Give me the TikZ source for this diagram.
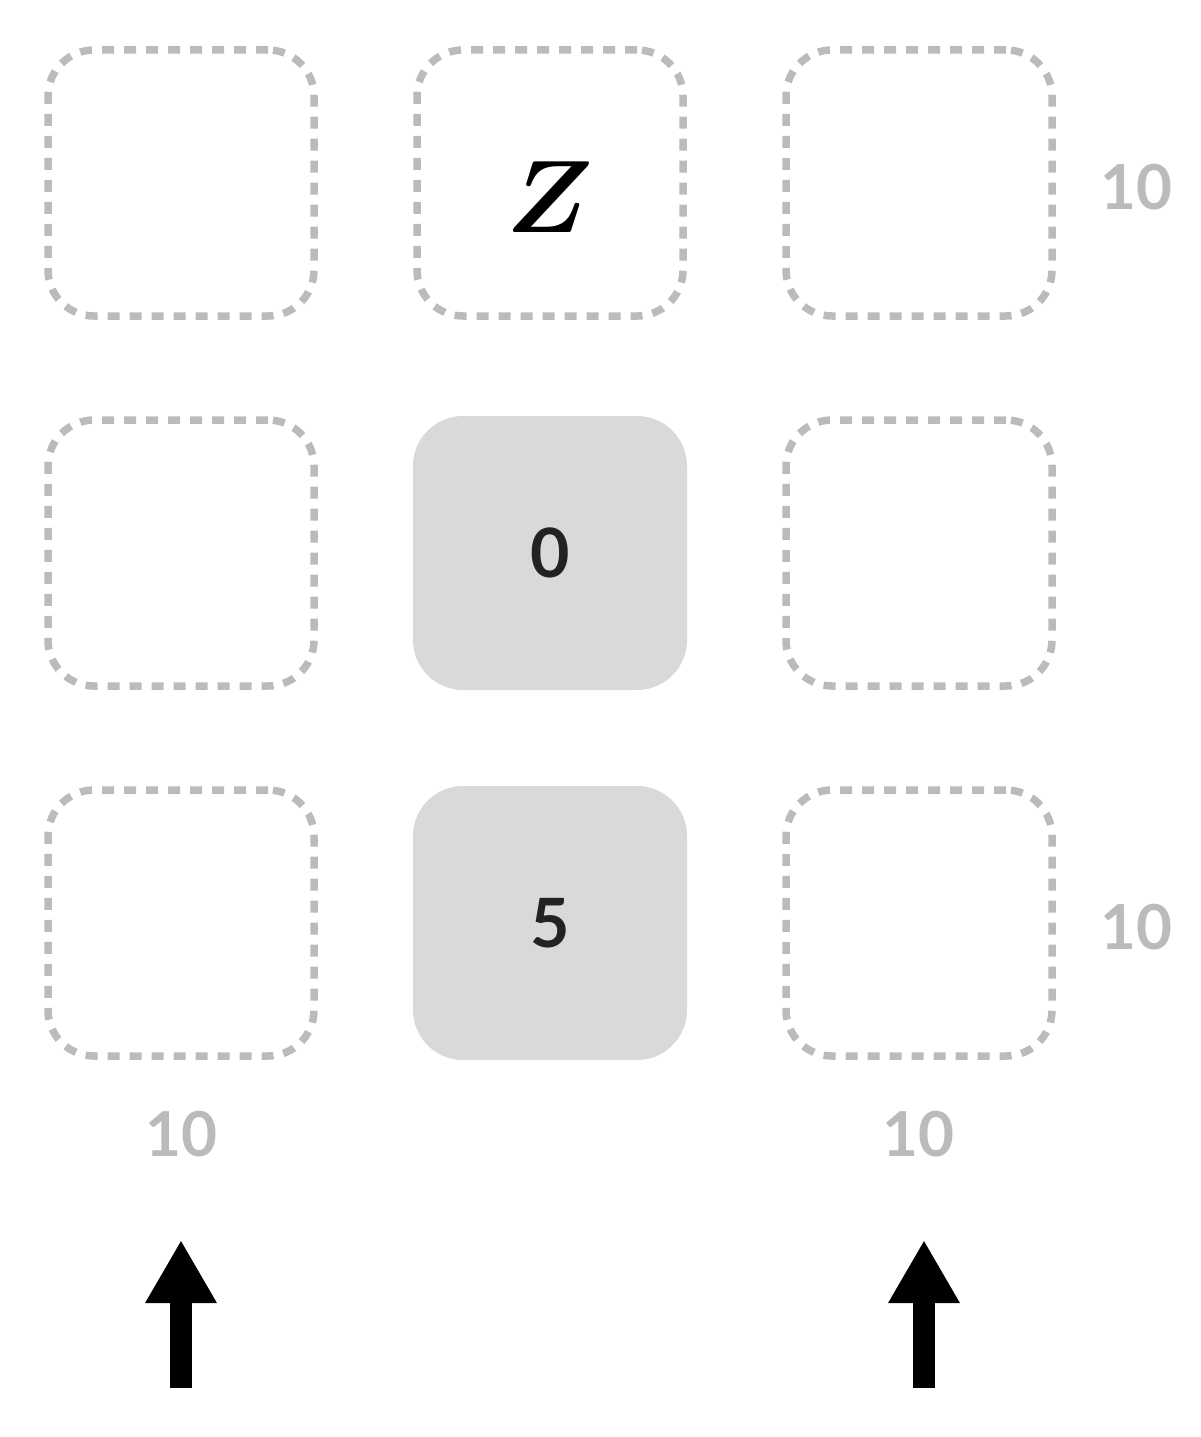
\documentclass[tikz,border=0pt]{standalone}
\usepackage{bm}
\usepackage{fontspec}
\setsansfont{Lato}
\usetikzlibrary{arrows.meta}
\definecolor{dashgray}{HTML}{BBBBBB}
\definecolor{fillgray}{HTML}{D9D9D9}
\definecolor{labgray}{HTML}{BBBBBB}
\definecolor{numcol}{HTML}{222222}
\begin{document}
\begin{tikzpicture}[x=1pt,y=-1pt,
  emptybox/.style={draw=dashgray, line width=7.5pt, dash pattern=on 12pt off 10pt,
    rounded corners=46pt, minimum width=266pt, minimum height=266pt, inner sep=0pt},
  filledbox/.style={fill=fillgray, rounded corners=50pt, minimum width=274pt,
    minimum height=274pt, inner sep=0pt,
    font=\sffamily\bfseries\fontsize{68}{68}\selectfont, text=numcol},
  sumlabel/.style={font=\sffamily\bfseries\fontsize{62}{62}\selectfont, text=labgray, inner sep=0pt},
  bigarrow/.style={line width=22pt, -{Triangle[width=67pt,length=63pt]}}
]
\useasboundingbox (0,0) rectangle (1200,1437);
% grid
\node[emptybox] (b11) at (181,183) {};
\node[emptybox, label={[name=zlab, inner sep=0pt, yshift=-14pt]center:{\scalebox{10.3}{\fontsize{10}{10}\selectfont$\bm{Z}$}}}] (b12) at (550,183) {};
\node[emptybox] (b13) at (919,183) {};
\node[emptybox] (b21) at (181,553) {};
\node[filledbox] (b22) at (550,553) {0};
\node[emptybox] (b23) at (919,553) {};
\node[emptybox] (b31) at (181,923) {};
\node[filledbox] (b32) at (550,923) {5};
\node[emptybox] (b33) at (919,923) {};
% labels
\node[sumlabel] (r1) at (1136,187) {10};
\node[sumlabel] (r3) at (1136,927) {10};
\node[sumlabel] (c1) at (181,1134) {10};
\node[sumlabel] (c3) at (918,1134) {10};
% arrows
\coordinate (a1s) at (181,1388);
\coordinate (a1e) at (181,1240);
\coordinate (a3s) at (924,1388);
\coordinate (a3e) at (924,1240);
\draw[bigarrow] (a1s) -- (a1e);
\draw[bigarrow] (a3s) -- (a3e);
\end{tikzpicture}
\end{document}
